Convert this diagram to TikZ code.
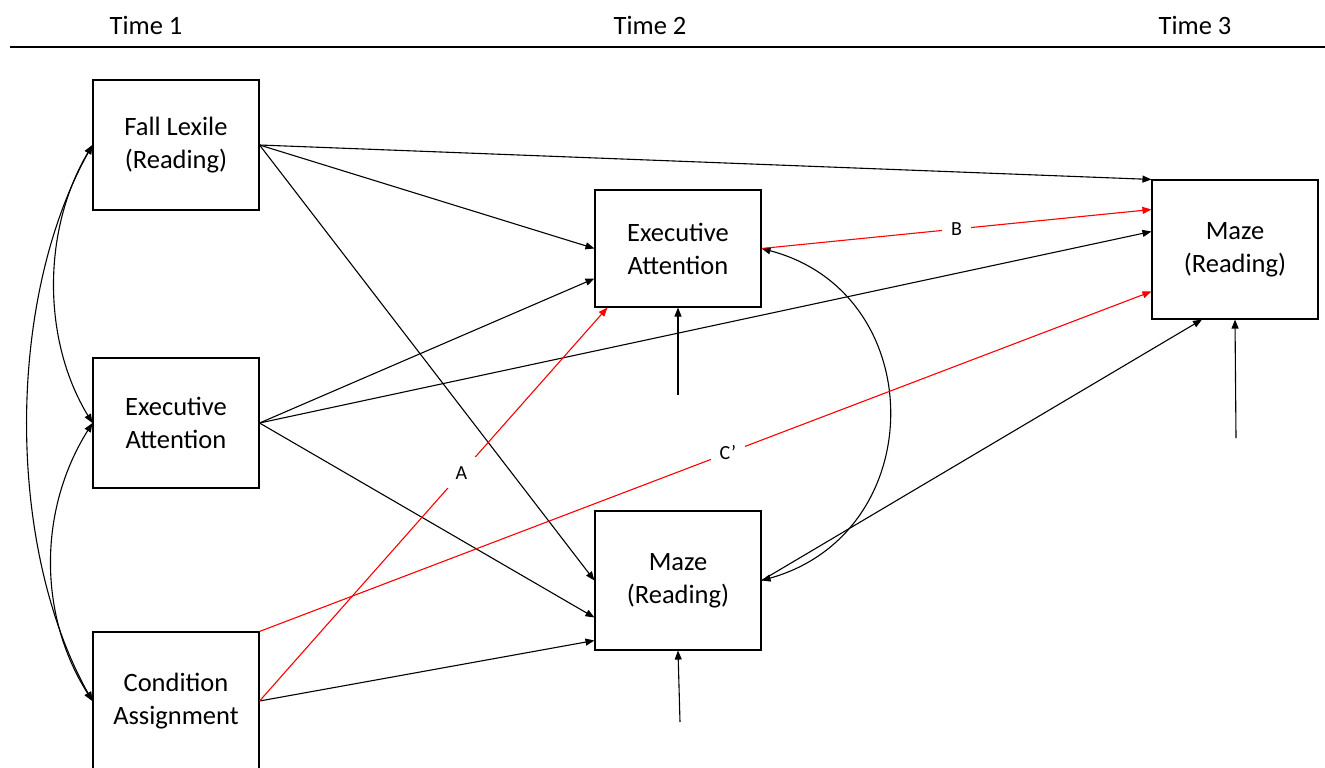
\documentclass[tikz,border=0pt]{standalone}
\usepackage{fontspec}
\setmainfont{Carlito}
\usetikzlibrary{arrows.meta,calc}
\begin{document}
\begin{tikzpicture}[x=1pt,y=-1pt,
  box/.style={draw,line width=1.1pt,minimum width=166pt,align=center,inner sep=0pt,font=\fontsize{26.5}{33}\selectfont},
  conn/.style={line width=1.1pt,-{Triangle[length=9pt,width=7pt]}},
  cov/.style={line width=1.1pt,{Triangle[length=9pt,width=7pt]}-{Triangle[length=9pt,width=7pt]}},
  redc/.style={conn,draw=red},
  lab/.style={fill=white,inner sep=9pt,font=\fontsize{20}{24}\selectfont},
  hdr/.style={font=\fontsize{26.5}{33}\selectfont}]
\useasboundingbox (0,0) rectangle (1325,768);
% header
\node[hdr] (t1) at (146,25) {Time 1};
\node[hdr] (t2) at (650,25) {Time 2};
\node[hdr] (t3) at (1195,25) {Time 3};
\coordinate (hl) at (10,47);
\coordinate (hr) at (1325,47);
\draw[line width=1.1pt] (hl) -- (hr);
% boxes
\node[box,minimum height=130pt] (FL) at (176,145) {Fall Lexile\\(Reading)};
\node[box,minimum height=130pt] (EA1) at (176,423) {Executive\\Attention};
\node[box,minimum height=138pt] (CA) at (176,701) {Condition\\Assignment};
\node[box,minimum height=117pt] (EA2) at (678,248.5) {Executive\\Attention};
\node[box,minimum height=139pt] (M2) at (678,580.5) {Maze\\(Reading)};
\node[box,minimum height=139pt] (M3) at (1235,249.5) {Maze\\(Reading)};
% residual starts
\coordinate (rEA2) at (678,395);
\coordinate (rM2) at (680,722);
\coordinate (rM3) at (1236,438);
% black paths
\draw[conn] (FL.east) -- (M3.north west);
\draw[conn] (FL.east) -- (EA2.west);
\draw[conn] (FL.east) -- (M2.west);
\draw[conn] (EA1.east) -- ($(EA2.west)+(0,30)$);
\draw[conn] (EA1.east) -- ($(M3.west)+(0,-18)$);
\draw[conn] (EA1.east) -- ($(M2.west)+(0,37)$);
\draw[conn] (CA.east) -- ($(M2.west)+(0,60)$);
\draw[conn] (M2.east) -- ($(M3.south)+(-33,0)$);
% residuals
\draw[conn] (rEA2) -- (EA2.south);
\draw[conn] (rM2) -- (M2.south);
\draw[conn] (rM3) -- (M3.south);
% covariances
\draw[cov] (FL.west) .. controls (42,230) and (42,340) .. (EA1.west);
\draw[cov] (EA1.west) .. controls (38,510) and (38,615) .. (CA.west);
\draw[cov] (FL.west) .. controls (6,300) and (6,547) .. (CA.west);
\draw[cov] (EA2.east) .. controls (931,293) and (931,533) .. (M2.east);
% red paths
\draw[redc] (CA.east) -- node[lab,pos=0.58] {A} ($(EA2.south west)+(13,0)$);
\draw[redc] (EA2.east) -- node[lab,pos=0.5] {B} ($(M3.west)+(0,-40)$);
\draw[redc] (CA.north east) -- node[lab,pos=0.525] {C’} ($(M3.west)+(0,42)$);
\end{tikzpicture}
\end{document}
